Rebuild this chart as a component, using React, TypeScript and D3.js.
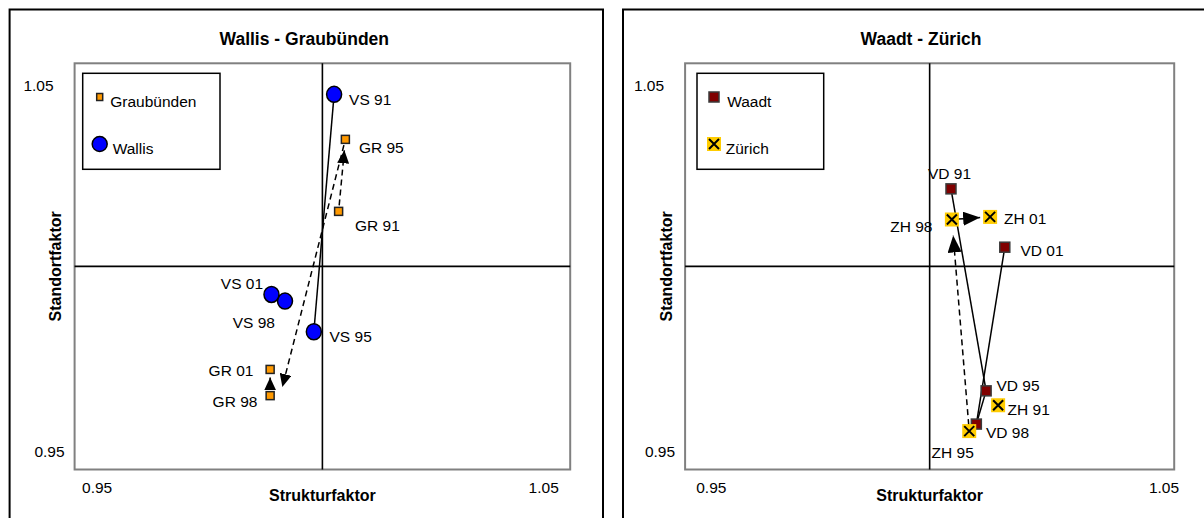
import * as d3 from 'd3'

// shared axis range (both factors)
const DOMAIN: [number, number] = [0.945, 1.055]
const TICKS = [0.95, 1.05]

// Wallis
const vsLabels = ['VS 91', 'VS 95', 'VS 98', 'VS 01']
const vsX = [1.0026, 0.9981, 0.9917, 0.9887]
const vsY = [1.0466, 0.9823, 0.9906, 0.9924]
// Graubünden
const grLabels = ['GR 91', 'GR 95', 'GR 98', 'GR 01']
const grX = [1.0036, 1.0051, 0.9884, 0.9884]
const grY = [1.0149, 1.0344, 0.965, 0.9721]
// Waadt
const vdLabels = ['VD 91', 'VD 95', 'VD 98', 'VD 01']
const vdX = [1.0048, 1.0127, 1.0105, 1.0169]
const vdY = [1.021, 0.9663, 0.9573, 1.0052]
// Zürich
const zhLabels = ['ZH 91', 'ZH 95', 'ZH 98', 'ZH 01']
const zhX = [1.0154, 1.0089, 1.005, 1.0136]
const zhY = [0.9624, 0.9554, 1.0127, 1.0134]

// which years are joined (index pairs)
const vsSeg = [[0, 1]]
const grSeg = [[0, 1], [1, 2], [2, 3]]
const vdSeg = [[0, 1], [1, 2], [2, 3]]
const zhSeg = [[1, 2], [2, 3]]

const FONT = "'Liberation Sans', Arial, sans-serif"

type Anchor = 'start' | 'middle' | 'end'
type LabelPos = [Anchor, number, number]

// label placement relative to the marker (layout only)
const vsLab: LabelPos[] = [['start', 15, 5], ['start', 15.7, 4.7], ['end', -10, 21.6], ['end', -8.4, -10.7]]
const grLab: LabelPos[] = [['start', 16.4, 14], ['start', 13.5, 8], ['end', -12.7, 5.7], ['end', -16.7, 1]]
const vdLab: LabelPos[] = [['middle', -1.5, -15.6], ['start', 10.4, -5.6], ['start', 9.6, 8.3], ['start', 15.7, 3.5]]
const zhLab: LabelPos[] = [['start', 9.5, 4], ['middle', -16.5, 21], ['end', -19.4, 7], ['start', 14, 2]]

// arrow tips stop short of the marker (px), and a small nudge of the end point
const grGap = [11, 9, 8]
const grNudge = [[0, 0], [10, 0], [0, 0]]
const zhGap = [16, 10]
const zhNudge = [[0, 0], [0, 0]]

type Kind = 'circle' | 'orange' | 'red' | 'cross'

type Series = {
  name: string
  kind: Kind
  labels: string[]
  xs: number[]
  ys: number[]
  seg: number[][]
  dashed: boolean
  arrow: boolean
  lab: LabelPos[]
  gap?: number[]
  nudge?: number[][]
  head?: [number, number]
}

const Marker = ({ kind, x, y, legend }: { kind: Kind; x: number; y: number; legend?: boolean }) => {
  if (kind === 'circle') {
    return <ellipse cx={x} cy={y} rx={7.5} ry={legend ? 7.5 : 8} fill="#0000FF" stroke="#000" strokeWidth={1.5} />
  }
  if (kind === 'orange') {
    const w = legend ? 6 : 8
    const h = legend ? 7 : 8
    return <rect x={x - w / 2} y={y - h / 2} width={w} height={h} fill="#FF9900" stroke="#222" strokeWidth={1.5} />
  }
  if (kind === 'red') {
    return <rect x={x - 5} y={y - 5} width={10} height={10} fill="#800000" stroke="#3a3a3a" strokeWidth={1.5} />
  }
  return (
    <g>
      <rect x={x - 7} y={y - 7} width={14} height={14} fill="#FFCC00" />
      <path d={`M${x - 5},${y - 5}L${x + 5},${y + 5}M${x + 5},${y - 5}L${x - 5},${y + 5}`} stroke="#000" strokeWidth={2} />
    </g>
  )
}

type PanelProps = {
  id: string
  title: string
  frameX: number
  frameW: number
  plotLeft: number
  plotRight: number
  series: Series[]
  legendX: number
  legendW: number
  legendTextDx: number[]
  xTickDx: number[]
}

const PLOT_TOP = 63.3
const PLOT_BOTTOM = 469.5

const Panel = (p: PanelProps) => {
  const x = d3.scaleLinear().domain(DOMAIN).range([p.plotLeft, p.plotRight])
  const y = d3.scaleLinear().domain(DOMAIN).range([PLOT_BOTTOM, PLOT_TOP])
  const cx = x(1)
  const cy = y(1)
  const midX = (p.plotLeft + p.plotRight) / 2

  const segLine = (s: Series, a: number, b: number, k: number) => {
    const x1 = x(s.xs[a]), y1 = y(s.ys[a])
    let x2 = x(s.xs[b]), y2 = y(s.ys[b])
    if (!s.arrow) return { x1, y1, x2, y2 }
    const n = s.nudge ? s.nudge[k] : [0, 0]
    x2 += n[0]
    y2 += n[1]
    const len = Math.hypot(x2 - x1, y2 - y1)
    const ux = (x2 - x1) / len, uy = (y2 - y1) / len
    const g = s.gap ? s.gap[k] : 9
    return { x1: x1 + ux * 6, y1: y1 + uy * 6, x2: x2 - ux * g, y2: y2 - uy * g }
  }

  return (
    <g>
      <defs>
        {p.series.filter(s => s.arrow).map(s => {
          const [hl, hw] = s.head || [12, 12]
          return (
            <marker key={s.name} id={`head-${p.id}-${s.kind}`} markerUnits="userSpaceOnUse" markerWidth={hl + 1}
              markerHeight={hw} refX={hl} refY={hw / 2} orient="auto" viewBox={`0 0 ${hl + 1} ${hw}`}>
              <path d={`M0,0L${hl},${hw / 2}L0,${hw}Z`} fill="#000" />
            </marker>
          )
        })}
      </defs>
      {/* outer chart frame, runs off the bottom of the picture */}
      <rect x={p.frameX} y={9.5} width={p.frameW} height={540} fill="#fff" stroke="#000" strokeWidth={2} />
      <text x={(p.frameX + p.frameX + p.frameW) / 2 - 2} y={44.5} textAnchor="middle" fontFamily={FONT}
        fontWeight="bold" fontSize={17.5}>{p.title}</text>

      {/* plot area */}
      <rect x={p.plotLeft} y={PLOT_TOP} width={p.plotRight - p.plotLeft} height={PLOT_BOTTOM - PLOT_TOP}
        fill="#fff" stroke="#808080" strokeWidth={2} />
      <line x1={cx} x2={cx} y1={PLOT_TOP} y2={PLOT_BOTTOM} stroke="#000" strokeWidth={1.6} />
      <line x1={p.plotLeft} x2={p.plotRight} y1={cy} y2={cy} stroke="#000" strokeWidth={1.6} />

      {/* tick labels */}
      {TICKS.map((t, i) => (
        <text key={`xt${i}`} x={x(t) + p.xTickDx[i]} y={492.5} textAnchor="middle" fontFamily={FONT} fontSize={15.5}>
          {t.toFixed(2)}
        </text>
      ))}
      {TICKS.map((t, i) => (
        <text key={`yt${i}`} x={p.plotLeft - (i === 0 ? 10 : 21)} y={y(t) + (i === 0 ? 6 : 9)} textAnchor="end"
          fontFamily={FONT} fontSize={15.5}>
          {t.toFixed(2)}
        </text>
      ))}

      {/* axis titles */}
      <text x={midX} y={501} textAnchor="middle" fontFamily={FONT} fontWeight="bold" fontSize={16}>Strukturfaktor</text>
      <text transform={`translate(${p.plotLeft - 13.5},${cy}) rotate(-90)`} textAnchor="middle" fontFamily={FONT}
        fontWeight="bold" fontSize={16}>Standortfaktor</text>

      {/* connecting lines / arrows */}
      {p.series.map(s => s.seg.map(([a, b], k) => {
        const l = segLine(s, a, b, k)
        return (
          <line key={`${s.name}-seg${k}`} {...l} stroke="#000" strokeWidth={1.5}
            strokeDasharray={s.dashed ? '6,4' : undefined}
            markerEnd={s.arrow ? `url(#head-${p.id}-${s.kind})` : undefined} />
        )
      }))}

      {/* markers */}
      {p.series.map(s => s.xs.map((v, i) => (
        <Marker key={`${s.name}-m${i}`} kind={s.kind} x={x(v)} y={y(s.ys[i])} />
      )))}

      {/* point labels */}
      {p.series.map(s => s.labels.map((lab, i) => (
        <text key={`${s.name}-l${i}`} x={x(s.xs[i]) + s.lab[i][1]} y={y(s.ys[i]) + s.lab[i][2] + 5.5}
          textAnchor={s.lab[i][0]} fontFamily={FONT} fontSize={15.5}>{lab}</text>
      )))}

      {/* legend */}
      <rect x={p.legendX} y={73.3} width={p.legendW} height={96} fill="#fff" stroke="#000" strokeWidth={1.5} />
      {p.series.map((s, i) => (
        <g key={`leg${i}`}>
          <Marker kind={s.kind} x={p.legendX + 17} y={97 + i * 47} legend />
          <text x={p.legendX + p.legendTextDx[i]} y={101 + i * 47 + 5.5} fontFamily={FONT} fontSize={15.5}>{s.name}</text>
        </g>
      ))}
    </g>
  )
}

const App = () => {
  const left: Series[] = [
    { name: 'Graubünden', kind: 'orange', labels: grLabels, xs: grX, ys: grY, seg: grSeg, dashed: true, arrow: true,
      lab: grLab, gap: grGap, nudge: grNudge, head: [13, 12] },
    { name: 'Wallis', kind: 'circle', labels: vsLabels, xs: vsX, ys: vsY, seg: vsSeg, dashed: false, arrow: false, lab: vsLab },
  ]
  const right: Series[] = [
    { name: 'Waadt', kind: 'red', labels: vdLabels, xs: vdX, ys: vdY, seg: vdSeg, dashed: false, arrow: false, lab: vdLab },
    { name: 'Zürich', kind: 'cross', labels: zhLabels, xs: zhX, ys: zhY, seg: zhSeg, dashed: true, arrow: true,
      lab: zhLab, gap: zhGap, nudge: zhNudge, head: [17, 14] },
  ]
  return (
    <svg width={1204} height={518} style={{ position: 'absolute', left: 0, top: 0, background: '#fff' }}>
      <rect width={1204} height={518} fill="#fff" />
      <Panel id="l" title="Wallis - Graubünden" frameX={9.6} frameW={593.4} plotLeft={74.6} plotRight={570.2}
        series={left} legendX={82.7} legendW={137.3} legendTextDx={[27.5, 30]} xTickDx={[0, -4]} />
      <Panel id="r" title="Waadt - Zürich" frameX={623} frameW={600} plotLeft={685.1} plotRight={1174.2}
        series={right} legendX={697} legendW={126.7} legendTextDx={[30.2, 28.7]} xTickDx={[4, 12]} />
    </svg>
  )
}

export default App
